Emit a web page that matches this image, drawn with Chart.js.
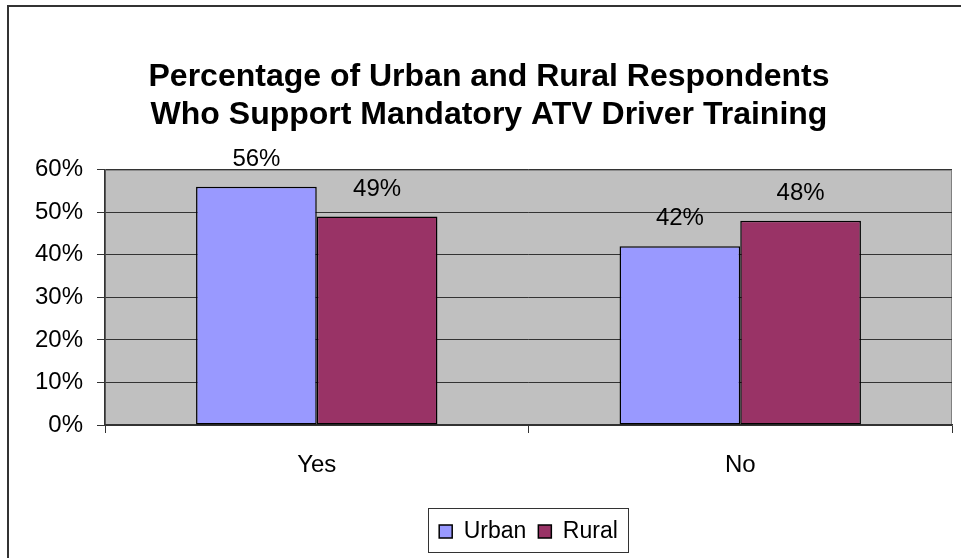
<!DOCTYPE html>
<html>
<head>
<meta charset="utf-8">
<script src="https://cdn.jsdelivr.net/npm/chart.js@4/dist/chart.umd.min.js"></script>
<style>
  body { margin: 0; background: #fff; }
</style>
</head>
<body>
<canvas id="atvChart" width="961" height="558"></canvas>
<script>
// survey answers, percent
const categories = ["Yes", "No"];
const urban = [56, 42];
const rural = [49, 48];
const yTicks = [0, 10, 20, 30, 40, 50, 60];

Chart.defaults.font.family = "'Liberation Sans', Arial, sans-serif";
Chart.defaults.color = "#000";

// grey plot area, outer frame, box round the legend
const frame = {
  id: "frame",
  beforeDraw(chart) {
    const { ctx, chartArea: a } = chart;
    ctx.save();
    ctx.fillStyle = "#c0c0c0";
    ctx.fillRect(a.left, a.top, a.right - a.left, a.bottom - a.top);
    ctx.strokeStyle = "#808080";
    ctx.lineWidth = 1;
    ctx.strokeRect(a.left + 0.5, a.top + 0.5, a.right - a.left - 1, a.bottom - a.top);
    ctx.restore();
  },
  afterDraw(chart) {
    const ctx = chart.ctx;
    ctx.save();
    ctx.strokeStyle = "#333";
    ctx.lineWidth = 2;
    ctx.strokeRect(8, 6, chart.width + 20, chart.height + 20);

    const lg = chart.legend;
    const boxes = lg.legendHitBoxes;
    if (boxes && boxes.length) {
      const first = boxes[0];
      const last = boxes[boxes.length - 1];
      const x0 = first.left - 11;
      const x1 = last.left + last.width + 10;
      ctx.strokeStyle = "#333";
      ctx.lineWidth = 1;
      ctx.strokeRect(Math.round(x0) + 0.5, lg.top + 0.5, Math.round(x1 - x0), lg.height - 1);
    }
    ctx.restore();
  }
};

// value labels above bars
const valueLabels = {
  id: "valueLabels",
  afterDatasetsDraw(chart) {
    const ctx = chart.ctx;
    ctx.save();
    ctx.font = "24px 'Liberation Sans', Arial, sans-serif";
    ctx.fillStyle = "#000";
    ctx.textAlign = "center";
    ctx.textBaseline = "alphabetic";
    chart.data.datasets.forEach((ds, i) => {
      chart.getDatasetMeta(i).data.forEach((bar, j) => {
        ctx.fillText(ds.data[j] + "%", bar.x, bar.y - 21);
      });
    });
    ctx.restore();
  }
};

new Chart(document.getElementById("atvChart"), {
  type: "bar",
  data: {
    labels: categories,
    datasets: [
      {
        label: "Urban",
        data: urban,
        backgroundColor: "#9999ff",
        borderColor: "#000",
        borderWidth: 1.5,
        borderSkipped: false
      },
      {
        label: "Rural",
        data: rural,
        backgroundColor: "#993366",
        borderColor: "#000",
        borderWidth: 1.5,
        borderSkipped: false
      }
    ]
  },
  options: {
    responsive: false,
    animation: false,
    layout: { padding: { left: 26, right: 9, top: 0, bottom: 5 } },
    datasets: {
      bar: { categoryPercentage: 0.57, barPercentage: 1 }
    },
    plugins: {
      title: {
        display: true,
        text: ["Percentage of Urban and Rural Respondents", "Who Support Mandatory ATV Driver Training"],
        font: { size: 32, weight: "bold" },
        lineHeight: 1.125,
        color: "#000",
        padding: { top: 58, bottom: 35 }
      },
      legend: {
        position: "bottom",
        fullSize: false,
        labels: {
          boxWidth: 13,
          boxHeight: 13,
          padding: 12,
          font: { size: 23 },
          color: "#000"
        }
      },
      tooltip: { enabled: false }
    },
    scales: {
      x: {
        afterFit: (s) => { s.height = 83; },
        grid: {
          offset: true,
          drawOnChartArea: false,
          color: "#333",
          tickLength: 8
        },
        border: { color: "#333", width: 1.5 },
        ticks: { font: { size: 24 }, padding: 18, color: "#000" }
      },
      y: {
        min: 0,
        max: 60,
        afterFit: (s) => { s.width = 79; },
        afterBuildTicks: (s) => { s.ticks = yTicks.map((v) => ({ value: v })); },
        grid: { color: "#333", tickLength: 8, lineWidth: 1 },
        border: { color: "#333", width: 1.5 },
        ticks: {
          font: { size: 24 },
          padding: 14,
          color: "#000",
          callback: (v) => v + "%"
        }
      }
    }
  },
  plugins: [frame, valueLabels]
});
</script>
</body>
</html>
